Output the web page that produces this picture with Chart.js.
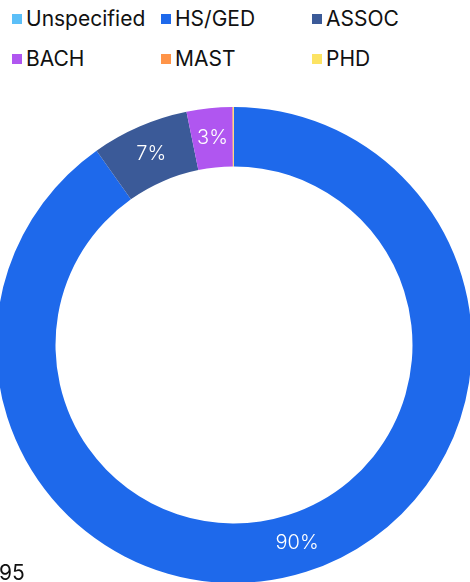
<!DOCTYPE html>
<html>
<head>
<meta charset="utf-8">
<script src="https://cdn.jsdelivr.net/npm/chart.js@4"></script>
<style>
  html, body { margin: 0; padding: 0; width: 470px; height: 582px; overflow: hidden; background: #fff; position: relative; }
  body { font-family: "Inter", sans-serif; }
  #legend { position: absolute; left: 12px; top: 6px; width: 460px; }
  .item { position: absolute; display: flex; align-items: center; font-size: 21px; color: #111; white-space: nowrap; }
  .box { width: 10px; height: 10px; margin-right: 4px; }
  #wrap { position: absolute; left: -4px; top: 107px; width: 476px; height: 476px; }
  #note { position: absolute; left: -1px; top: 560px; font-size: 21px; color: #111; }
</style>
</head>
<body>
<div id="legend"></div>
<div id="wrap"><canvas id="myChart"></canvas></div>
<div id="note">95</div>
<script>
const labels = ["Unspecified", "HS/GED", "ASSOC", "BACH", "MAST", "PHD"];
const values = [0, 90.2, 6.6, 3.1, 0.06, 0.04];
const colors = ["#5bbff8", "#1e69eb", "#3b5a98", "#b056f0", "#ff9448", "#fce363"];

// legend, 3 columns
let legend = document.getElementById("legend");
const colX = [0, 149, 300];
const rowY = [0, 40];
labels.forEach((l, i) => {
  let d = document.createElement("div");
  d.className = "item";
  d.style.left = colX[i % 3] + "px";
  d.style.top = rowY[Math.floor(i / 3)] + "px";
  d.innerHTML = `<span class="box" style="background:${colors[i]}"></span>${l}`;
  legend.appendChild(d);
});

const pctLabels = {
  id: "pctLabels",
  afterDatasetsDraw(chart) {
    const ctx = chart.ctx;
    const meta = chart.getDatasetMeta(0);
    const total = values.reduce((a, b) => a + b, 0);
    ctx.save();
    ctx.fillStyle = "#fff";
    ctx.font = "300 20px Inter";
    ctx.textAlign = "center";
    ctx.textBaseline = "middle";
    meta.data.forEach((arc, i) => {
      let pct = values[i] / total * 100;
      if (pct < 1) return;
      let p = arc.tooltipPosition();
      ctx.fillText(Math.round(pct) + "%", p.x, p.y);
    });
    ctx.restore();
  }
};

const ctx = document.getElementById("myChart").getContext("2d");
const myChart = new Chart(ctx, {
  type: "doughnut",
  data: {
    labels: labels,
    datasets: [{
      data: values,
      backgroundColor: colors,
      borderWidth: 0
    }]
  },
  options: {
    responsive: true,
    maintainAspectRatio: false,
    animation: false,
    cutout: "75%",
    layout: { padding: 0 },
    plugins: {
      legend: { display: false },
      tooltip: { enabled: false }
    }
  },
  plugins: [pctLabels]
});
</script>
</body>
</html>
